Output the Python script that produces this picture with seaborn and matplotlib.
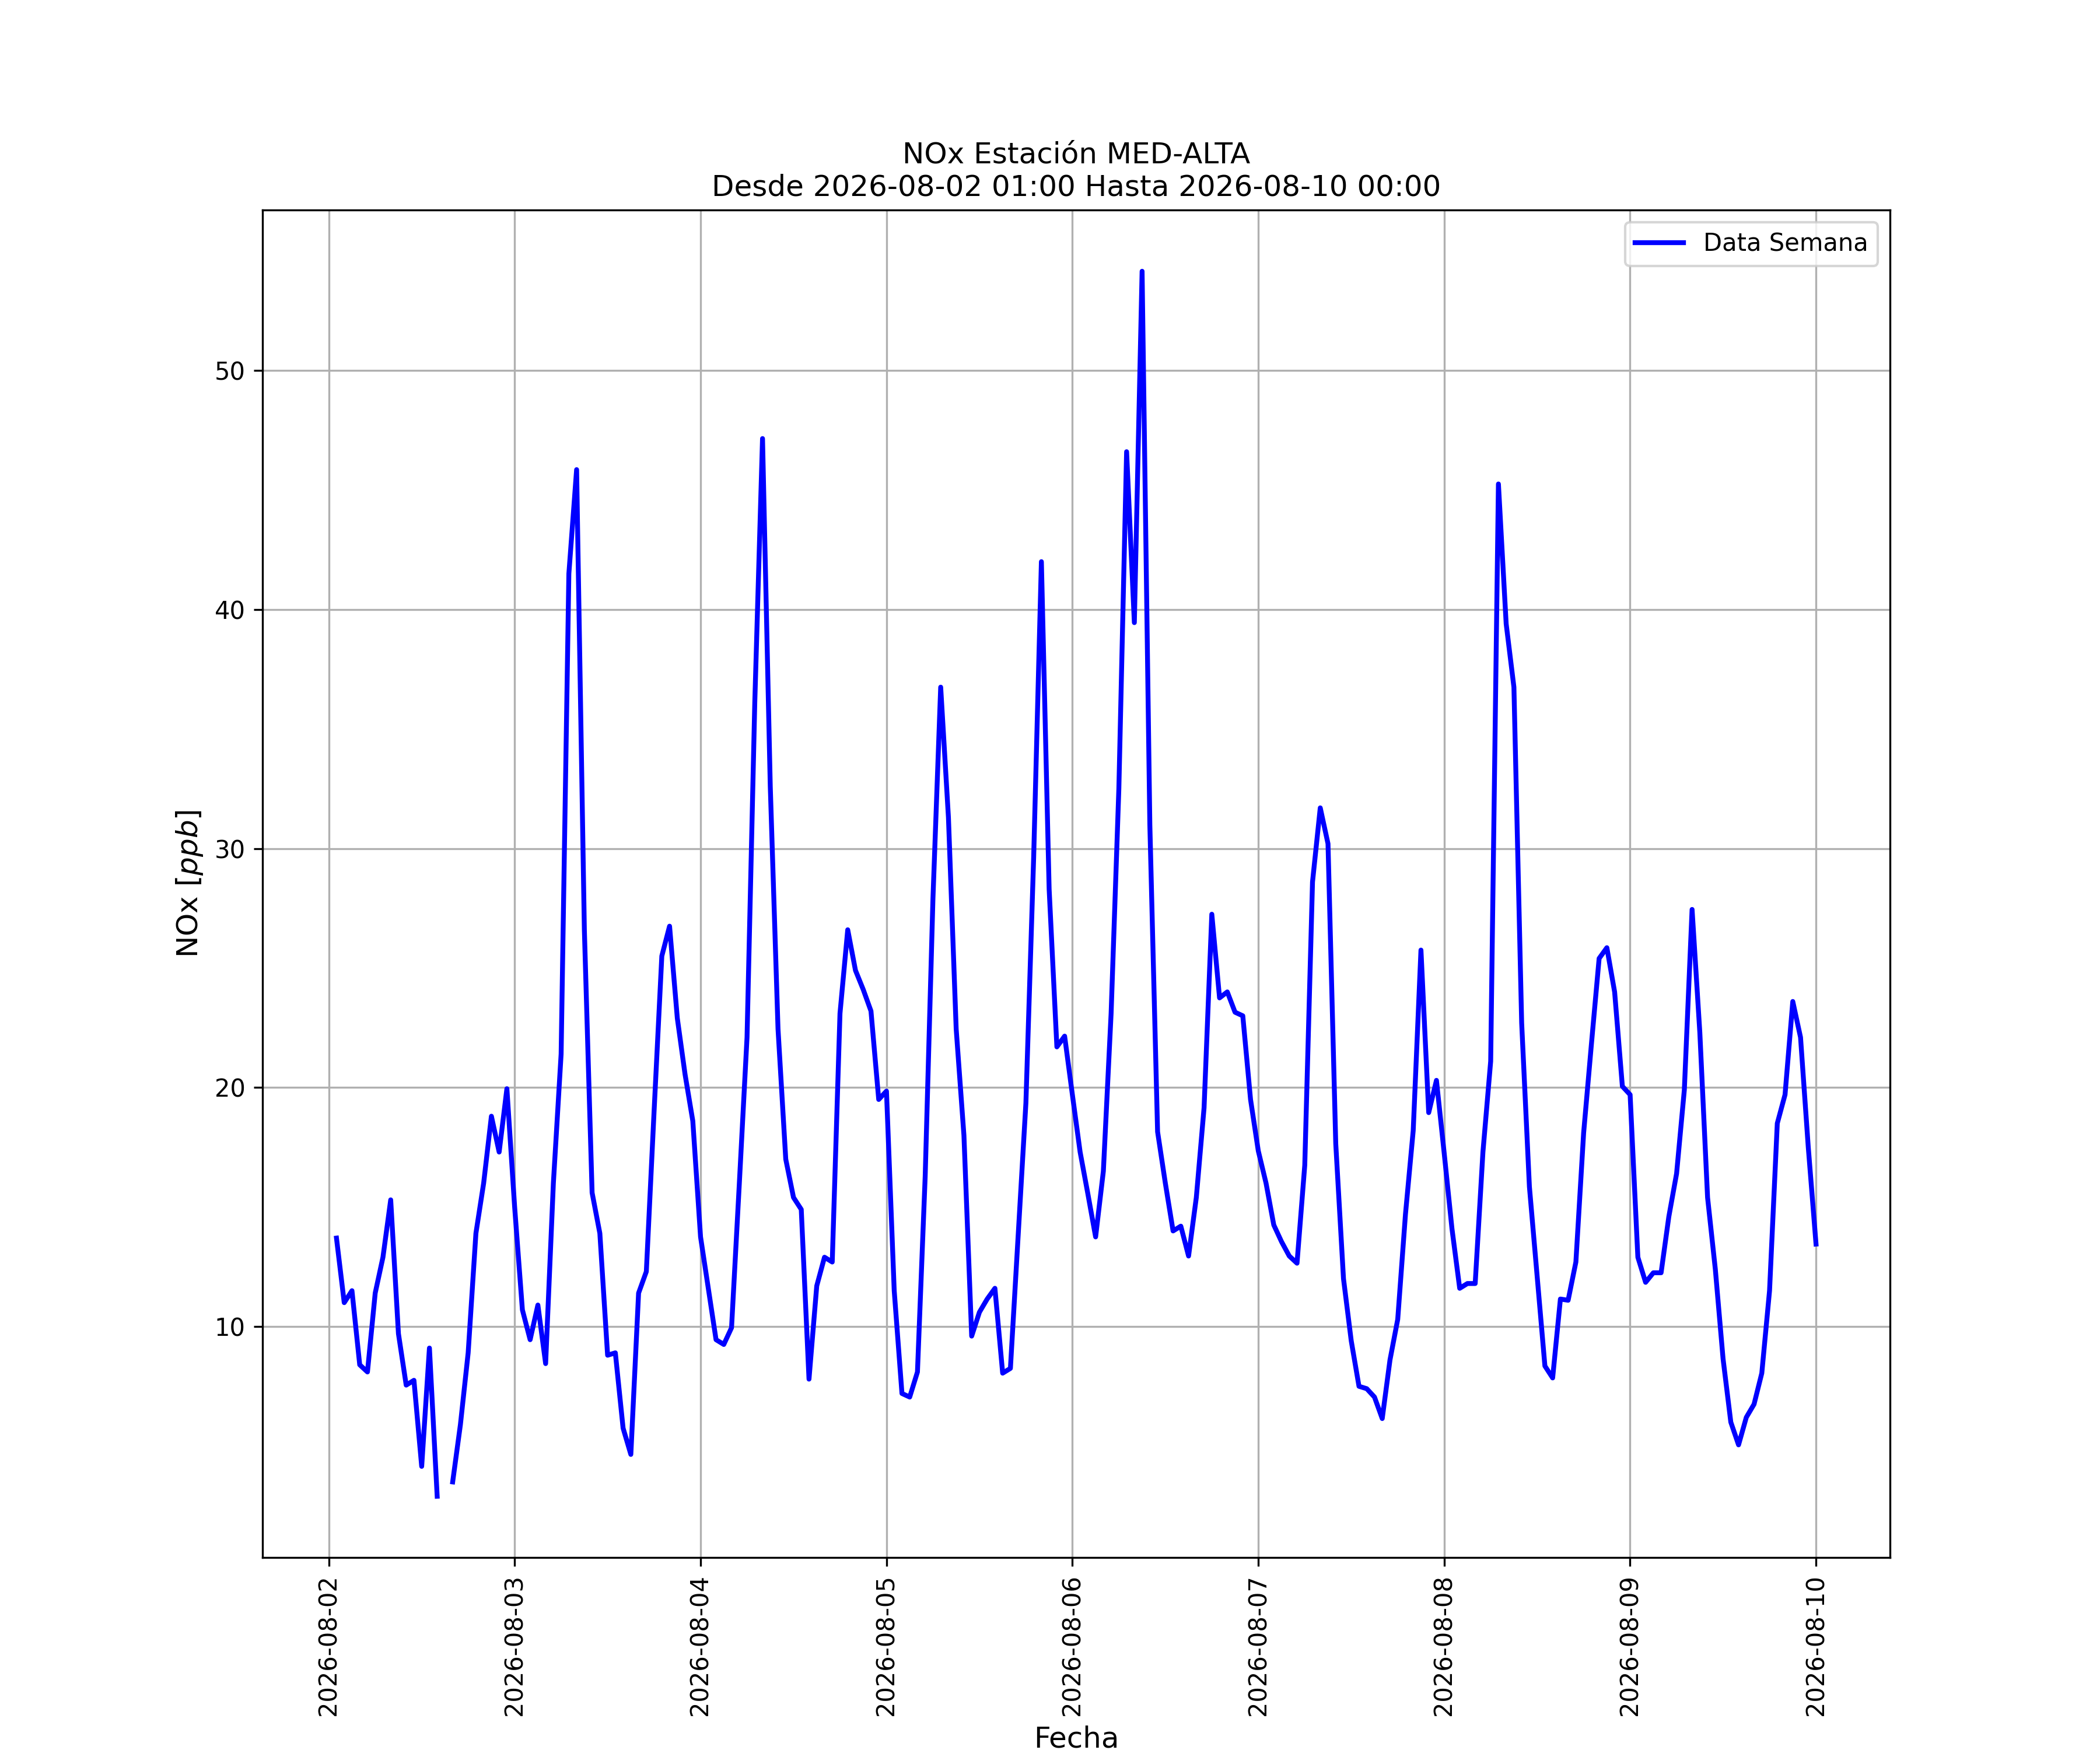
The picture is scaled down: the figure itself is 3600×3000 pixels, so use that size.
import matplotlib
matplotlib.use("Agg")
import matplotlib.pyplot as plt
import matplotlib.dates as mdates
import numpy as np
import pandas as pd
import seaborn as sns

# Hourly NOx values [ppb], 2026-08-02 01:00 -> 2026-08-10 00:00
day1 = [13.7, 11.0, 11.5, 8.4, 8.1, 11.4, 12.9, 15.3, 9.7, 7.55, 7.75, 4.15,
        9.1, 2.9, np.nan, 3.5, 5.9, 8.9, 13.9, 16.0, 18.8, 17.3, 19.95, 15.0]
day2 = [10.7, 9.45, 10.9, 8.45, 16.0, 21.4, 41.5, 45.85, 26.6, 15.6, 13.9, 8.8,
        8.9, 5.75, 4.65, 11.4, 12.3, 19.0, 25.5, 26.75, 22.9, 20.55, 18.6, 13.75]
day3 = [11.6, 9.45, 9.25, 9.95, 15.95, 22.1, 36.1, 47.15, 32.6, 22.45, 17.0, 15.4,
        14.9, 7.8, 11.7, 12.9, 12.7, 23.1, 26.6, 24.9, 24.1, 23.2, 19.5, 19.85]
day4 = [11.5, 7.2, 7.05, 8.1, 16.3, 27.9, 36.75, 31.3, 22.45, 18.0, 9.6, 10.6,
        11.15, 11.6, 8.05, 8.25, 13.8, 19.35, 29.6, 42.0, 28.3, 21.7, 22.15, 19.7]
day5 = [17.3, 15.55, 13.75, 16.5, 23.1, 32.5, 46.6, 39.45, 54.15, 31.0, 18.15, 16.0,
        14.0, 14.2, 12.95, 15.4, 19.15, 27.25, 23.75, 24.0, 23.15, 23.0, 19.5, 17.35]
day6 = [16.0, 14.25, 13.55, 12.95, 12.65, 16.75, 28.6, 31.7, 30.2, 17.65, 12.0, 9.4,
        7.5, 7.4, 7.05, 6.15, 8.6, 10.3, 14.7, 18.2, 25.75, 18.95, 20.3, 17.25]
day7 = [14.1, 11.6, 11.8, 11.8, 17.3, 21.1, 45.25, 39.4, 36.75, 22.7, 15.85, 12.1,
        8.35, 7.85, 11.15, 11.1, 12.7, 18.1, 21.8, 25.4, 25.85, 24.0, 20.05, 19.7]
day8 = [12.9, 11.85, 12.25, 12.25, 14.6, 16.4, 19.9, 27.45, 22.3, 15.4, 12.4, 8.65,
        6.0, 5.05, 6.2, 6.75, 8.05, 11.5, 18.5, 19.7, 23.6, 22.1, 17.5, 13.45]

start = "2026-08-02 01:00"
end = "2026-08-10 00:00"
station = "MED-ALTA"
series_label = "Data Semana"

values = np.array(day1 + day2 + day3 + day4 + day5 + day6 + day7 + day8, dtype=float)
times = pd.date_range(start, end, freq="h")
df = pd.DataFrame({"Fecha": times, "NOx": values})
# segment ids so that missing values break the line
df["seg"] = df["NOx"].isna().cumsum()
df = df.dropna()

fig, ax = plt.subplots(figsize=(12, 10), dpi=300)
sns.lineplot(data=df, x="Fecha", y="NOx", units="seg", estimator=None,
             color="blue", linewidth=2, ax=ax)

ax.grid(True, color="#b0b0b0", linewidth=0.8)
ax.xaxis.set_major_locator(mdates.DayLocator())
ax.xaxis.set_major_formatter(mdates.DateFormatter("%Y-%m-%d"))
plt.setp(ax.get_xticklabels(), rotation=90, fontsize=10)
plt.setp(ax.get_yticklabels(), fontsize=10)
ax.set_xlabel("Fecha", fontsize=12)
ax.set_ylabel("NOx [$ppb$]", fontsize=12)
ax.set_title(f"NOx Estación {station}\nDesde {start} Hasta {end}", fontsize=12)
ax.legend([ax.lines[0]], [series_label], loc="upper right", fontsize=10)

fig.savefig("out.png", dpi=300)
